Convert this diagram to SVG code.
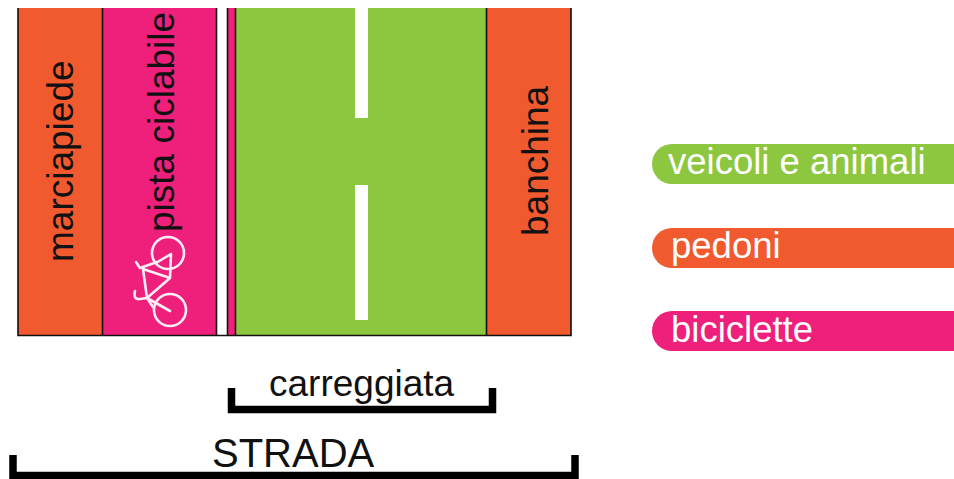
<svg xmlns="http://www.w3.org/2000/svg" width="954" height="479" viewBox="0 0 954 479">
<style>
.sec{stroke:none}
.ln{fill:none;stroke:#111;stroke-width:1.6}
.t{font-family:"Liberation Sans",Arial,sans-serif;font-size:37px;fill:#111}
.w{font-family:"Liberation Sans",Arial,sans-serif;font-size:36.500px;fill:#fff}
.br{fill:none;stroke:#000;stroke-width:7.500}
.bike{fill:none;stroke:#fff;stroke-width:2.600;stroke-linecap:round;stroke-linejoin:round;opacity:.92}
</style>
<rect width="954" height="479" fill="#fff"/>
<g id="marciapiede">
<rect class="sec" x="18" y="8" width="84.500" height="327" fill="#f15a2e"/>
<text class="t" transform="translate(73,262) rotate(-90)">marciapiede</text>
</g>
<g id="pista-ciclabile">
<rect class="sec" x="102.500" y="8" width="114" height="327" fill="#ee207b"/>
<text class="t" transform="translate(174,232) rotate(-90)">pista ciclabile</text>
<g class="bike">
<circle cx="168" cy="253" r="16"/>
<circle cx="170" cy="310" r="16"/>
<path d="M143 269 L170 278 L171 254 L156 263 M143 269 L147 298 L170 278 M147 298 L170 311"/>
<path d="M136 262 L140 268 L157 262"/>
<path d="M135 291 Q133 300 140 299 L147 298 L153 307"/>
</g>
</g>
<g id="spartitraffico">
<rect x="216.500" y="8" width="10.500" height="327" fill="#fff"/>
<rect x="227" y="8" width="8.500" height="327" fill="#ee207b"/>
</g>
<g id="carreggiata">
<rect class="sec" x="235.500" y="8" width="251" height="327" fill="#8dc63f"/>
<rect x="355" y="8" width="13" height="110" fill="#fff"/>
<rect x="355" y="185" width="13" height="135" fill="#fff"/>
</g>
<g id="banchina">
<rect class="sec" x="486.500" y="8" width="84.500" height="327" fill="#f15a2e"/>
<text class="t" transform="translate(548,236) rotate(-90)">banchina</text>
</g>
<g id="separatori">
<path class="ln" d="M18 8V335.500H571V8M102.500 8V335M216.500 8V335M227.500 8V335M235.500 8V335M486.500 8V335"/>
</g>
<g id="misura-carreggiata">
<path class="br" d="M231.500 388V409.500H492.500V388"/>
<text class="t" x="269" y="396">carreggiata</text>
</g>
<g id="misura-strada">
<path class="br" d="M13 455V475.500H575V455"/>
<text class="t" x="212" y="467" style="font-size:40px">STRADA</text>
</g>
<g id="legenda-veicoli">
<path d="M954 144H672a20 20 0 0 0 0 40H954Z" fill="#8dc63f"/>
<text class="w" x="668" y="174">veicoli e animali</text>
</g>
<g id="legenda-pedoni">
<path d="M954 228H672a20 20 0 0 0 0 40H954Z" fill="#f15a2e"/>
<text class="w" x="671" y="258">pedoni</text>
</g>
<g id="legenda-biciclette">
<path d="M954 311H672a20 20 0 0 0 0 40H954Z" fill="#ee207b"/>
<text class="w" x="671" y="342">biciclette</text>
</g>
</svg>
